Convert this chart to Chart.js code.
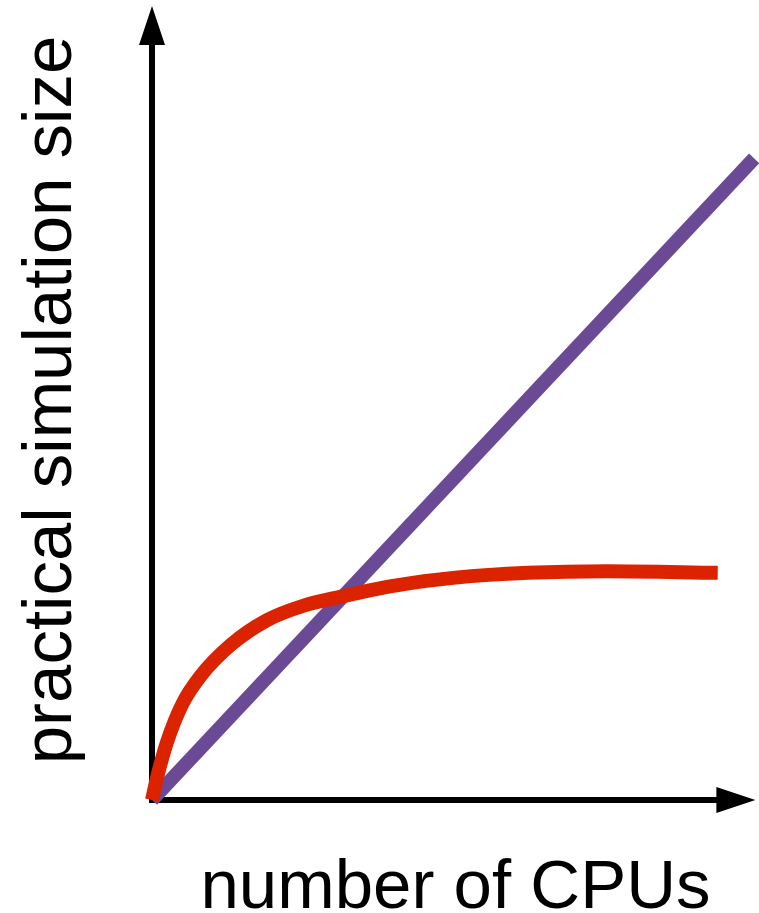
<!DOCTYPE html>
<html>
<head>
<meta charset="utf-8">
<script src="https://cdn.jsdelivr.net/npm/chart.js@4/dist/chart.umd.min.js"></script>
<style>
  html, body { margin: 0; padding: 0; background: #fff; }
  canvas { display: block; }
</style>
</head>
<body>
<canvas id="myChart" width="759" height="913"></canvas>
<script>
// axis titles
const xTitle = 'number of CPUs';
const yTitle = 'practical simulation size';

// ideal scaling (straight line)
const idealX = [0, 99.2];
const idealY = [0, 80.2];

// practical scaling (saturates)
const realX = [0, 1, 2.5, 5, 8, 13, 19, 25, 31, 40, 50, 62, 75, 93.2];
const realY = [0, 3.3, 7.3, 12, 15.5, 19.4, 22.5, 24.3, 25.4, 26.8, 27.8, 28.4, 28.6, 28.4];

const toPoints = (xs, ys) => xs.map((x, i) => ({ x: x, y: ys[i] }));

// draws the two axis lines with arrow heads, under the curves
const arrowAxes = {
    id: 'arrowAxes',
    beforeDatasetsDraw(chart) {
        const ctx = chart.ctx;
        const xs = chart.scales.x, ys = chart.scales.y;
        const ox = xs.getPixelForValue(0), oy = ys.getPixelForValue(0);
        const xEnd = xs.getPixelForValue(99.4);
        const yEnd = ys.getPixelForValue(99.25);
        const head = 38, half = 13;
        ctx.save();
        ctx.strokeStyle = '#000';
        ctx.fillStyle = '#000';
        ctx.lineWidth = 6;
        ctx.beginPath();
        ctx.moveTo(ox, oy + 3);
        ctx.lineTo(ox, yEnd + head);
        ctx.moveTo(ox - 3, oy);
        ctx.lineTo(xEnd - head, oy);
        ctx.stroke();
        // y arrow
        ctx.beginPath();
        ctx.moveTo(ox, yEnd);
        ctx.lineTo(ox - half, yEnd + head + 1);
        ctx.lineTo(ox + half, yEnd + head + 1);
        ctx.closePath();
        ctx.fill();
        // x arrow
        ctx.beginPath();
        ctx.moveTo(xEnd, oy);
        ctx.lineTo(xEnd - head - 1, oy - half);
        ctx.lineTo(xEnd - head - 1, oy + half);
        ctx.closePath();
        ctx.fill();
        ctx.restore();
    }
};

const ctx = document.getElementById('myChart').getContext('2d');
const myChart = new Chart(ctx, {
    type: 'scatter',
    data: {
        datasets: [{
            label: 'practical',
            data: toPoints(realX, realY),
            showLine: true,
            borderColor: '#dc2300',
            borderWidth: 14,
            pointRadius: 0,
            cubicInterpolationMode: 'monotone',
            clip: false
        }, {
            label: 'ideal',
            data: toPoints(idealX, idealY),
            showLine: true,
            borderColor: '#6a4a95',
            borderWidth: 14,
            pointRadius: 0,
            clip: false
        }]
    },
    options: {
        responsive: false,
        animation: false,
        devicePixelRatio: 1,
        layout: { padding: 0 },
        plugins: {
            legend: { display: false },
            tooltip: { enabled: false }
        },
        scales: {
            x: {
                type: 'linear',
                min: 0,
                max: 100,
                grid: { display: false, drawTicks: false },
                border: { display: false },
                ticks: { display: false },
                title: {
                    display: true,
                    text: xTitle,
                    color: '#000',
                    font: { family: '"Liberation Sans", Arial, sans-serif', size: 69, lineHeight: 0.7 },
                    padding: { top: 64.7, bottom: 0 }
                }
            },
            y: {
                type: 'linear',
                min: 0,
                max: 100,
                grid: { display: false, drawTicks: false },
                border: { display: false },
                ticks: { display: false },
                title: {
                    display: true,
                    text: yTitle,
                    color: '#000',
                    font: { family: '"Liberation Sans", Arial, sans-serif', size: 69, lineHeight: 1.2 },
                    padding: { top: 10.6, bottom: 58.6 }
                }
            }
        }
    },
    plugins: [arrowAxes]
});
</script>
</body>
</html>
